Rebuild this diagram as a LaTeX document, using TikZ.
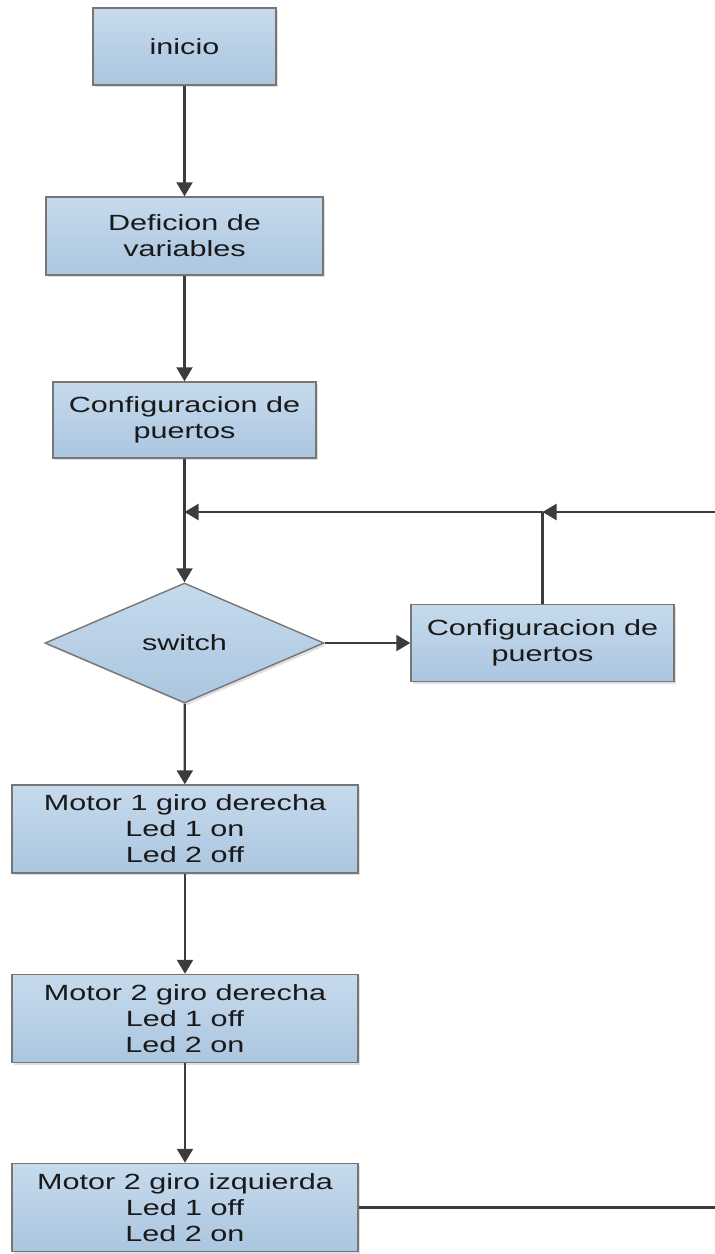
\documentclass[tikz,border=0pt]{standalone}
\usepackage{fontspec}
\setmainfont{Liberation Sans}[FakeStretch=1.39]
\usetikzlibrary{shapes.geometric,arrows.meta,shadows}

\definecolor{boxtop}{HTML}{C6DAEC}
\definecolor{boxbot}{HTML}{ABC6E0}
\definecolor{boxline}{HTML}{767676}
\definecolor{wire}{HTML}{3C3C3C}

\tikzset{
  shapebase/.style={draw=boxline, line width=0.7pt, top color=boxtop, bottom color=boxbot,
    inner sep=0pt, align=center, text=black!90,
    font=\fontsize{11pt}{13pt}\selectfont,
    drop shadow={shadow xshift=1.2pt, shadow yshift=-1.2pt, fill=black!35, opacity=0.35}},
  procbox/.style={shapebase, rectangle},
  decision/.style={shapebase, diamond},
  wireline/.style={draw=wire, line width=1.1pt},
  flow/.style={wireline, -{Triangle[width=8pt,length=7pt]}},
}

\begin{document}
\begin{tikzpicture}[x=0.5pt,y=-0.5pt]
  \useasboundingbox (0,0) rectangle (715,1254);

  % main column
  \node[procbox, minimum width=91.5pt, minimum height=38.5pt] (inicio) at (184.5,46.5) {inicio};
  \node[procbox, minimum width=138.5pt, minimum height=39pt] (defvar) at (184.5,236) {Deficion de\\variables};
  \node[procbox, minimum width=131.5pt, minimum height=38pt] (cfgA) at (184.5,420) {Configuracion de\\puertos};
  \node[decision, minimum width=139.5pt, minimum height=60pt] (sw) at (184.5,643) {switch};
  \node[procbox, minimum width=131.5pt, minimum height=38.5pt] (cfgB) at (542.5,643) {Configuracion de\\puertos};
  \node[procbox, minimum width=173pt, minimum height=44pt] (motA) at (185,829)
    {Motor 1 giro derecha\\Led 1 on\\Led 2 off};
  \node[procbox, minimum width=173pt, minimum height=44pt] (motB) at (185,1018.5)
    {Motor 2 giro derecha\\Led 1 off\\Led 2 on};
  \node[procbox, minimum width=173pt, minimum height=44pt] (motC) at (185,1207.5)
    {Motor 2 giro izquierda\\Led 1 off\\Led 2 on};

  % return loop points
  \coordinate (loopL) at (184.5,512);
  \coordinate (loopJ) at (542.5,512);
  \coordinate (edgeTop) at (715,512);
  \coordinate (edgeBot) at (715,1207.5);

  % connectors
  \draw[flow] (inicio) -- (defvar);
  \draw[flow] (defvar) -- (cfgA);
  \draw[flow] (cfgA) -- (sw);
  \draw[flow] (sw) -- (cfgB);
  \draw[wireline] (cfgB.north) -- (loopJ);
  \draw[flow] (edgeTop) -- (loopJ);
  \draw[flow] (loopJ) -- (loopL);
  \draw[flow] (sw) -- (motA);
  \draw[flow] (motA) -- (motB);
  \draw[flow] (motB) -- (motC);
  \draw[wireline] (motC) -- (edgeBot);
\end{tikzpicture}
\end{document}
